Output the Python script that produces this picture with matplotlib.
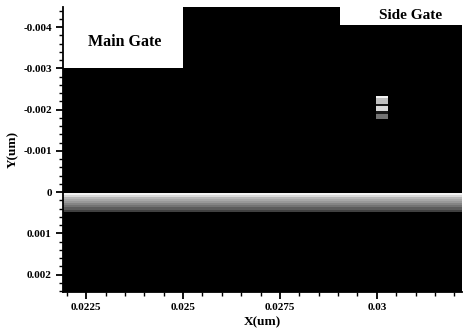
import matplotlib.pyplot as plt
import matplotlib.ticker as ticker
import numpy as np

# axis range (um)
x_lim = [0.0219, 0.0322]
y_lim = [0.00242, -0.00449]

x_ticks = [0.0225, 0.025, 0.0275, 0.03]
x_tick_labels = ["0.0225", "0.025", "0.0275", "0.03"]
y_ticks = [-0.004, -0.003, -0.002, -0.001, 0, 0.001, 0.002]
y_tick_labels = ["-0.004", "-0.003", "-0.002", "-0.001", "0", "0.001", "0.002"]

# gate regions (white, above the channel)
gate_names = ["Main Gate", "Side Gate"]
gate_x0 = [0.0219, 0.02905]
gate_x1 = [0.025, 0.0322]
gate_bottom = [-0.003, -0.00405]
gate_label_x = [0.0235, 0.03088]
gate_label_y = [-0.00363, -0.00429]
gate_label_size = [11.5, 11]

# bright band just below y=0 (gray level per layer)
band_y = [0.00002, 0.00007, 0.00012, 0.00017, 0.00022, 0.00027,
          0.00032, 0.00037, 0.00042, 0.00047]
band_level = [0.95, 0.85, 0.72, 0.66, 0.6, 0.52, 0.45, 0.36, 0.25]

# small bright spot under the side gate
spot_x = [0.02997, 0.0303]
spot_y = [-0.00234, -0.00228, -0.00213, -0.00208, -0.00198, -0.0019,
          -0.00178]
spot_level = [0.95, 0.75, 0.1, 0.85, 0.1, 0.45]

plt.rcParams['font.family'] = ['Liberation Serif', 'DejaVu Serif']
plt.rcParams['font.weight'] = 'bold'

fig = plt.figure(figsize=(4.63, 3.33), dpi=100)
ax = fig.add_axes([0.136, 0.123, 0.862, 0.856])
ax.set_facecolor('black')

for i in range(len(gate_names)):
    ax.fill_between([gate_x0[i], gate_x1[i]], y_lim[1] - 0.001, gate_bottom[i],
                    color='white', linewidth=0, zorder=2)
    ax.text(gate_label_x[i], gate_label_y[i], gate_names[i],
            fontsize=gate_label_size[i], fontweight='bold',
            ha='center', va='center', zorder=3)

ax.pcolormesh(x_lim, band_y, np.array(band_level)[:, None], cmap='gray',
              vmin=0, vmax=1, shading='flat', zorder=1)
ax.pcolormesh(spot_x, spot_y, np.array(spot_level)[:, None], cmap='gray',
              vmin=0, vmax=1, shading='flat', zorder=1)

ax.set_xlim(x_lim)
ax.set_ylim(y_lim)
ax.set_xticks(x_ticks)
ax.set_xticklabels(x_tick_labels)
ax.set_yticks(y_ticks)
ax.set_yticklabels(y_tick_labels)
ax.xaxis.set_minor_locator(ticker.MultipleLocator(0.0005))
ax.yaxis.set_minor_locator(ticker.MultipleLocator(0.0002))
ax.tick_params(axis='both', which='major', labelsize=8, length=5, width=1.3,
               direction='out', pad=3)
ax.tick_params(axis='both', which='minor', length=3, width=1, direction='out')

for side in ['top', 'right']:
    ax.spines[side].set_visible(False)
for side in ['left', 'bottom']:
    ax.spines[side].set_linewidth(1.3)

ax.set_xlabel("X(um)", fontsize=9.5, fontweight='bold', labelpad=3)
ax.set_ylabel("Y(um)", fontsize=9.5, fontweight='bold', labelpad=3)

fig.savefig("out.png", dpi=100)
